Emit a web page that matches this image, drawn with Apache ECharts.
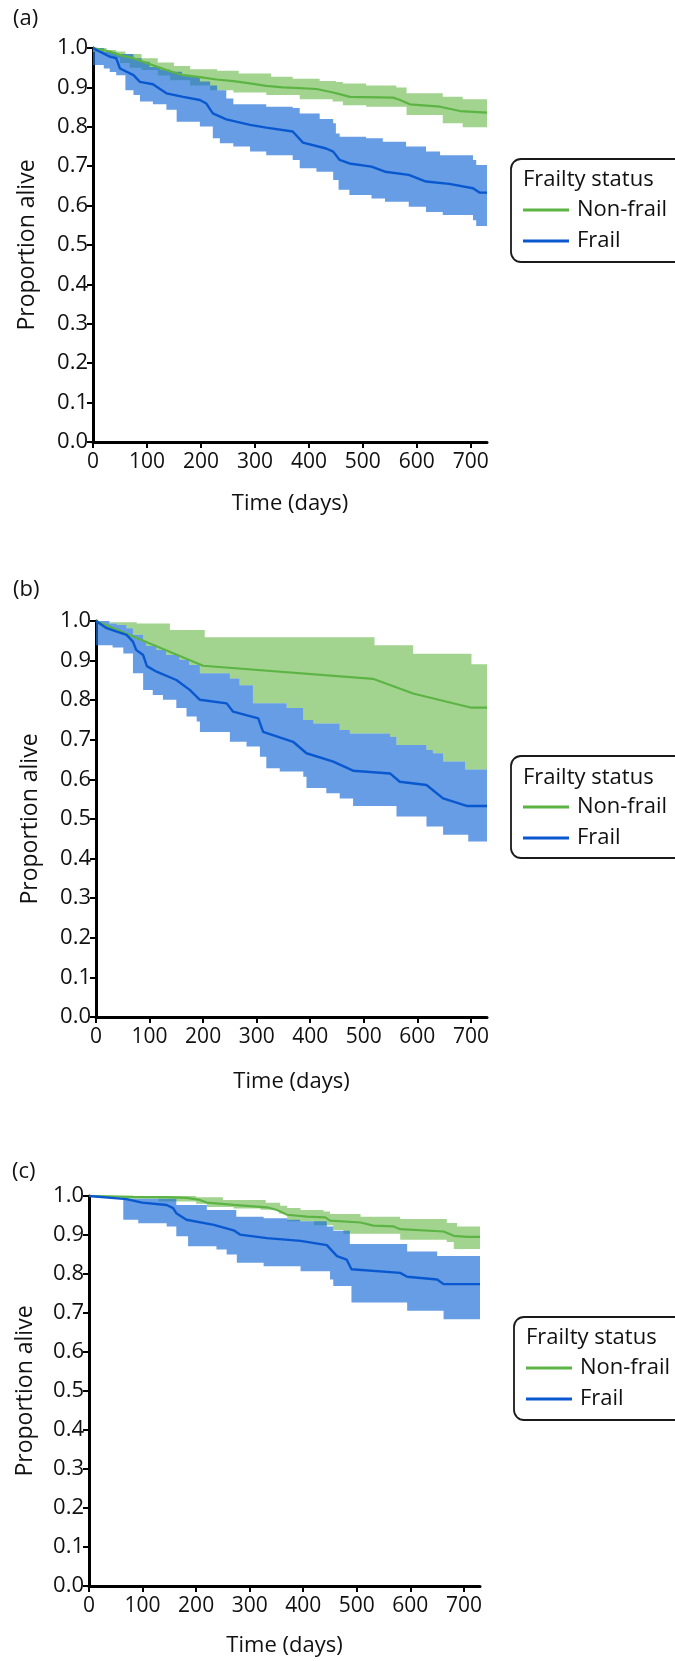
<!DOCTYPE html>
<html><head><meta charset="utf-8">
<script src="https://cdn.jsdelivr.net/npm/echarts@6/dist/echarts.min.js"></script>
<style>html,body{margin:0;padding:0;background:#fff}#c{width:675px;height:1661px}</style>
</head><body><div id="c"></div>
<script>
// ---------- shared labels / ticks ----------
const xTicks = [0, 100, 200, 300, 400, 500, 600, 700];
const yTicks = [0, 0.1, 0.2, 0.3, 0.4, 0.5, 0.6, 0.7, 0.8, 0.9, 1.0];
const xMax = 730;
const groupNames = ['Non-frail', 'Frail'];
const legendTitle = 'Frailty status';
const panelLabels = ['(a)', '(b)', '(c)'];
const xAxisName = 'Time (days)';
const yAxisName = 'Proportion alive';

// ---------- panel (a) ----------
const aNonfrailLine = [[0,1.0],[31,0.991],[50,0.982],[75,0.974],[105,0.959],[136,0.944],[167,0.931],[198,0.926],[229,0.920],[260,0.916],[291,0.910],[321,0.904],[352,0.900],[383,0.898],[414,0.896],[445,0.887],[457,0.883],[476,0.876],[556,0.874],[569,0.868],[587,0.857],[643,0.851],[680,0.840],[730,0.836]];
const aFrailLine = [[0,1.0],[12,0.991],[31,0.978],[43,0.974],[50,0.948],[75,0.931],[87,0.914],[111,0.908],[136,0.885],[167,0.876],[198,0.868],[210,0.859],[222,0.834],[247,0.819],[291,0.805],[321,0.798],[370,0.788],[389,0.760],[432,0.745],[445,0.737],[457,0.716],[475,0.707],[516,0.699],[541,0.686],[585,0.678],[617,0.661],[660,0.655],[704,0.644],[716,0.633],[730,0.633]];
const aNonfrailHi = [[0,1.0],[25,0.995],[43,0.991],[60,0.985],[90,0.974],[120,0.963],[150,0.954],[180,0.946],[230,0.942],[270,0.935],[330,0.927],[370,0.922],[420,0.916],[450,0.914],[463,0.910],[506,0.905],[562,0.900],[581,0.885],[648,0.876],[685,0.870],[730,0.870]];
const aNonfrailLo = [[0,0.990],[15,0.985],[30,0.975],[50,0.962],[68,0.950],[90,0.944],[120,0.930],[143,0.918],[180,0.905],[217,0.893],[260,0.887],[321,0.881],[383,0.870],[444,0.864],[463,0.855],[506,0.851],[581,0.830],[648,0.809],[685,0.799],[730,0.799]];
const aFrailHi = [[0,1.0],[20,0.990],[43,0.985],[75,0.974],[90,0.965],[105,0.952],[125,0.945],[143,0.940],[165,0.932],[180,0.927],[198,0.915],[217,0.905],[230,0.893],[247,0.872],[260,0.857],[321,0.851],[370,0.848],[383,0.834],[420,0.820],[445,0.809],[450,0.783],[457,0.775],[506,0.771],[537,0.762],[580,0.750],[617,0.737],[643,0.728],[704,0.716],[710,0.703],[730,0.703]];
const aFrailLo = [[0,0.957],[20,0.948],[31,0.939],[43,0.931],[60,0.893],[75,0.881],[87,0.864],[111,0.857],[136,0.843],[155,0.813],[198,0.801],[222,0.771],[235,0.758],[260,0.750],[291,0.737],[321,0.728],[370,0.716],[383,0.695],[414,0.686],[445,0.665],[455,0.640],[475,0.627],[516,0.618],[541,0.610],[585,0.597],[617,0.584],[648,0.576],[704,0.563],[710,0.548],[730,0.548]];

// ---------- panel (b) ----------
const bNonfrailLine = [[0,1.0],[200,0.887],[517,0.854],[592,0.817],[701,0.781],[730,0.781]];
const bFrailLine = [[0,1.0],[20,0.982],[39,0.973],[57,0.965],[69,0.948],[75,0.927],[88,0.914],[95,0.886],[113,0.872],[150,0.851],[175,0.826],[194,0.801],[244,0.792],[256,0.771],[303,0.754],[312,0.720],[368,0.695],[393,0.666],[443,0.645],[480,0.622],[549,0.615],[567,0.594],[617,0.586],[648,0.552],[692,0.533],[730,0.533]];
const bNonfrailHi = [[0,1.0],[25,0.997],[76,0.994],[138,0.977],[203,0.959],[520,0.939],[592,0.917],[701,0.891],[730,0.891]];
const bNonfrailLo = [[0,1.0],[25,0.994],[39,0.990],[57,0.982],[69,0.965],[88,0.948],[94,0.937],[113,0.927],[131,0.914],[156,0.902],[174,0.889],[194,0.868],[250,0.855],[268,0.838],[293,0.792],[356,0.780],[387,0.750],[406,0.741],[455,0.725],[474,0.716],[549,0.708],[561,0.687],[617,0.674],[629,0.666],[648,0.645],[689,0.625],[730,0.625]];
const bFrailHi = [[0,1.0],[25,0.994],[39,0.990],[57,0.982],[69,0.965],[88,0.948],[94,0.937],[113,0.927],[131,0.914],[156,0.902],[174,0.889],[194,0.868],[250,0.855],[268,0.838],[293,0.792],[356,0.780],[387,0.750],[406,0.741],[455,0.725],[474,0.716],[549,0.708],[561,0.687],[617,0.674],[629,0.666],[648,0.645],[689,0.625],[730,0.625]];
const bFrailLo = [[0,0.939],[31,0.933],[51,0.918],[69,0.868],[88,0.826],[106,0.813],[125,0.801],[150,0.780],[169,0.759],[188,0.746],[194,0.720],[250,0.695],[281,0.683],[306,0.657],[318,0.628],[343,0.620],[387,0.607],[393,0.578],[430,0.565],[455,0.552],[480,0.533],[561,0.506],[617,0.481],[648,0.460],[695,0.443],[730,0.443]];

// ---------- panel (c) ----------
const cNonfrailLine = [[0,1.0],[83,0.998],[145,0.997],[182,0.995],[207,0.990],[220,0.983],[270,0.977],[332,0.971],[351,0.964],[370,0.952],[407,0.947],[441,0.945],[450,0.937],[507,0.932],[531,0.924],[569,0.922],[581,0.915],[662,0.909],[681,0.898],[706,0.895],[730,0.895]];
const cFrailLine = [[0,1.0],[70,0.992],[99,0.983],[145,0.977],[157,0.969],[163,0.956],[182,0.939],[233,0.926],[270,0.912],[282,0.901],[332,0.892],[395,0.885],[444,0.874],[463,0.846],[481,0.837],[490,0.812],[581,0.803],[594,0.793],[650,0.786],[662,0.774],[730,0.774]];
const cNonfrailHi = [[0,1.0],[200,0.997],[250,0.990],[330,0.983],[357,0.975],[370,0.969],[395,0.964],[438,0.960],[450,0.954],[507,0.947],[581,0.941],[668,0.931],[687,0.922],[730,0.922]];
const cNonfrailLo = [[0,1.0],[64,0.993],[130,0.986],[200,0.980],[220,0.972],[270,0.968],[320,0.965],[355,0.955],[370,0.935],[420,0.925],[456,0.913],[475,0.903],[581,0.888],[668,0.882],[681,0.864],[730,0.864]];
const cFrailHi = [[0,1.0],[64,0.993],[163,0.977],[220,0.964],[275,0.947],[326,0.943],[370,0.939],[394,0.935],[444,0.922],[456,0.911],[487,0.877],[594,0.858],[650,0.846],[730,0.846]];
const cFrailLo = [[0,1.0],[64,0.939],[92,0.930],[145,0.922],[163,0.897],[185,0.871],[238,0.863],[257,0.850],[276,0.829],[326,0.820],[395,0.807],[450,0.786],[456,0.769],[490,0.727],[594,0.706],[662,0.684],[730,0.684]];

// ---------- styling / layout ----------
const FONT = '"Open Sans", "Noto Sans", sans-serif';
const GREEN_LINE = '#5cb444';
const BLUE_LINE = '#0a58d0';
const GREEN_BAND = 'rgb(163,212,143)';
const BLUE_BAND = 'rgba(27,109,215,0.67)';
const TXT = '#111';

const panels = [
  { grid:{left:93, top:48, width:394, height:394}, label:[13,19], box:{x:511,y:159,h:103}, title:180, legLeft:523, legTop:197, xGap:48, yGap:52,
    nfLine:aNonfrailLine, fLine:aFrailLine, nfHi:aNonfrailHi, nfLo:aNonfrailLo, fHi:aFrailHi, fLo:aFrailLo },
  { grid:{left:96, top:621, width:391, height:396}, label:[13,590], box:{x:511,y:756,h:102}, title:778, legLeft:523, legTop:794, xGap:51, yGap:52,
    nfLine:bNonfrailLine, fLine:bFrailLine, nfHi:bNonfrailHi, nfLo:bNonfrailLo, fHi:bFrailHi, fLo:bFrailLo },
  { grid:{left:89, top:1196, width:391, height:393}, label:[12,1172], box:{x:514,y:1317,h:103}, title:1338, legLeft:526, legTop:1355, xGap:46, yGap:50,
    nfLine:cNonfrailLine, fLine:cFrailLine, nfHi:cNonfrailHi, nfLo:cNonfrailLo, fHi:cFrailHi, fLo:cFrailLo }
];

function bandRenderer(hi, lo, color) {
  return function (params, api) {
    if (params.dataIndex !== 0) return null;
    const pts = [];
    for (let i = 0; i < hi.length; i++) {
      const x1 = i < hi.length - 1 ? hi[i + 1][0] : hi[i][0];
      pts.push(api.coord([hi[i][0], hi[i][1]]));
      pts.push(api.coord([x1, hi[i][1]]));
    }
    for (let i = lo.length - 1; i >= 0; i--) {
      const x1 = i < lo.length - 1 ? lo[i + 1][0] : lo[i][0];
      pts.push(api.coord([x1, lo[i][1]]));
      pts.push(api.coord([lo[i][0], lo[i][1]]));
    }
    return { type: 'polygon', shape: { points: pts }, style: { fill: color } };
  };
}

const grids = [], xAxes = [], yAxes = [], series = [], legends = [], graphics = [];
panels.forEach(function (p, k) {
  grids.push(Object.assign({ containLabel: false }, p.grid));
  xAxes.push({
    gridIndex: k, type: 'value', min: 0, max: xMax, interval: 100,
    name: xAxisName, nameLocation: 'middle', nameGap: p.xGap,
    nameTextStyle: { fontSize: 22, color: TXT, fontFamily: FONT, lineHeight: 28 },
    axisLine: { show: true, onZero: false, lineStyle: { color: '#000', width: 3 } },
    axisTick: { show: true, customValues: xTicks, length: 6, lineStyle: { color: '#000', width: 2 } },
    axisLabel: { show: true, customValues: xTicks, fontSize: 21, color: TXT, fontFamily: FONT, margin: 10 },
    splitLine: { show: false }
  });
  yAxes.push({
    gridIndex: k, type: 'value', min: 0, max: 1, interval: 0.1,
    name: yAxisName, nameLocation: 'middle', nameGap: p.yGap, nameRotate: 90,
    nameTextStyle: { fontSize: 23, color: TXT, fontFamily: FONT, lineHeight: 28 },
    axisLine: { show: true, onZero: false, lineStyle: { color: '#000', width: 3 } },
    axisTick: { show: true, customValues: yTicks, length: 6, lineStyle: { color: '#000', width: 2 } },
    axisLabel: { show: true, customValues: yTicks, fontSize: 22, color: TXT, fontFamily: FONT, margin: 5,
      formatter: function (v) { return Number(v).toFixed(1); } },
    splitLine: { show: false }
  });
  series.push({ type: 'custom', name: groupNames[0] + ' CI', xAxisIndex: k, yAxisIndex: k, silent: true,
    data: p.nfHi, encode: { x: 0, y: 1 }, renderItem: bandRenderer(p.nfHi, p.nfLo, GREEN_BAND), z: 1 });
  series.push({ type: 'custom', name: groupNames[1] + ' CI', xAxisIndex: k, yAxisIndex: k, silent: true,
    data: p.fHi, encode: { x: 0, y: 1 }, renderItem: bandRenderer(p.fHi, p.fLo, BLUE_BAND), z: 1 });
  series.push({ type: 'line', name: groupNames[0], xAxisIndex: k, yAxisIndex: k, data: p.nfLine,
    symbol: 'none', showSymbol: false, lineStyle: { color: GREEN_LINE, width: 2.2 }, itemStyle: { color: GREEN_LINE }, z: 3 });
  series.push({ type: 'line', name: groupNames[1], xAxisIndex: k, yAxisIndex: k, data: p.fLine,
    symbol: 'none', showSymbol: false, lineStyle: { color: BLUE_LINE, width: 2.4 }, itemStyle: { color: BLUE_LINE }, z: 3 });
  legends.push({
    data: groupNames.slice(), orient: 'vertical', left: p.legLeft, top: p.legTop, padding: 0,
    itemWidth: 46, itemHeight: 3, itemGap: 5, icon: 'rect', selectedMode: false,
    textStyle: { fontSize: 22, color: TXT, fontFamily: FONT, lineHeight: 26, padding: [0, 0, 0, 3] }
  });
  graphics.push({ type: 'rect', z: 10, shape: { x: p.box.x, y: p.box.y, width: 180, height: p.box.h, r: 10 },
    style: { fill: 'rgba(0,0,0,0)', stroke: '#1a1a1a', lineWidth: 1.8 } });
  graphics.push({ type: 'text', z: 10, style: { text: legendTitle, x: p.legLeft, y: p.title, font: '22px ' + FONT, fill: TXT, verticalAlign: 'middle' } });
  graphics.push({ type: 'text', z: 10, style: { text: panelLabels[k], x: p.label[0], y: p.label[1], font: '22px ' + FONT, fill: TXT, verticalAlign: 'middle' } });
});

const chart = echarts.init(document.getElementById('c'), null, { renderer: 'canvas' });
chart.setOption({
  animation: false,
  backgroundColor: '#fff',
  textStyle: { fontFamily: FONT },
  grid: grids, xAxis: xAxes, yAxis: yAxes, series: series, legend: legends, graphic: graphics
});
</script></body></html>
